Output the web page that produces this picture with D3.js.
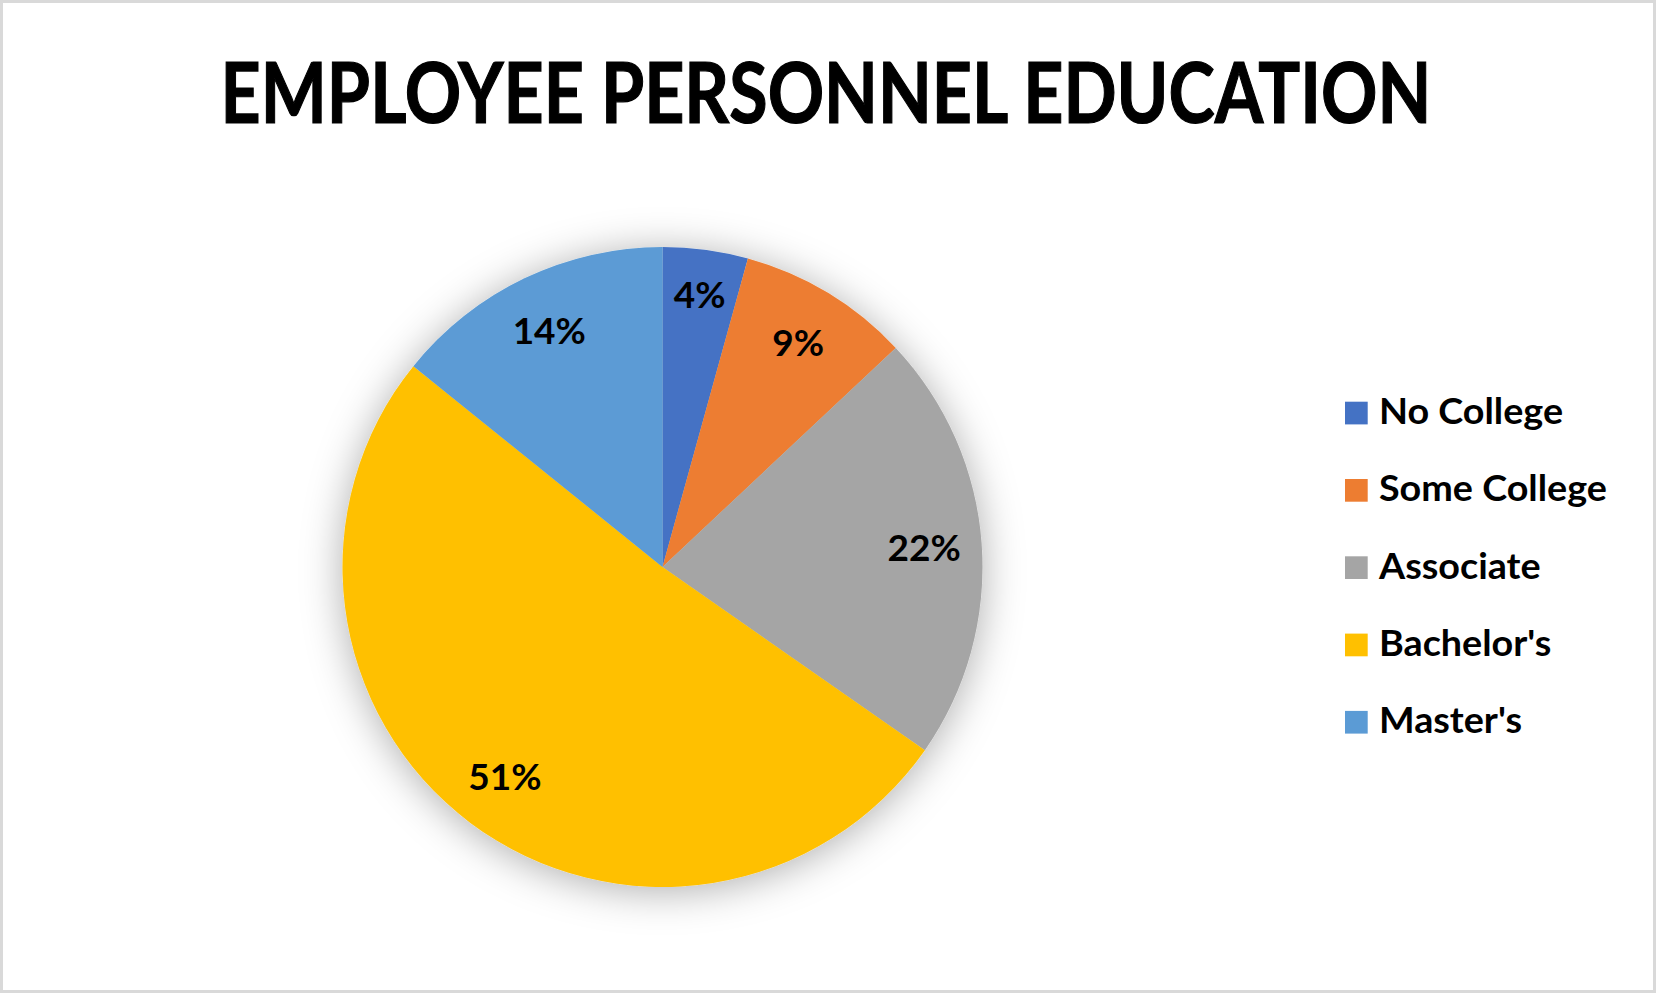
<!DOCTYPE html>
<html>
<head>
<meta charset="utf-8">
<script src="https://cdn.jsdelivr.net/npm/d3@7"></script>
<style>
  html, body { margin: 0; padding: 0; background: #fff; }
  svg { display: block; }
</style>
</head>
<body>
<svg id="chart" width="1656" height="993"></svg>
<script>
// data (share of employees, percent)
var categories = ["No College", "Some College", "Associate", "Bachelor's", "Master's"];
var shares = [4.3, 8.7, 21.7, 51.1, 14.2];
var colours = ["#4472C4", "#ED7D31", "#A5A5A5", "#FFC000", "#5B9BD5"];
var title = "EMPLOYEE PERSONNEL EDUCATION";

var svg = d3.select("#chart"),
    width = +svg.attr("width"),
    height = +svg.attr("height");

var font = "Lato, 'Open Sans', sans-serif";

// chart area frame
svg.append("rect")
    .attr("x", 1.5).attr("y", 1.5)
    .attr("width", width - 3).attr("height", height - 3)
    .attr("fill", "#fff")
    .attr("stroke", "#d9d9d9")
    .attr("stroke-width", 3);

// soft shadow round the pie
var defs = svg.append("defs");
var f = defs.append("filter")
    .attr("id", "shadow")
    .attr("x", "-30%").attr("y", "-30%")
    .attr("width", "160%").attr("height", "160%");
f.append("feDropShadow")
    .attr("dx", 0).attr("dy", 4)
    .attr("stdDeviation", 20)
    .attr("flood-color", "#000")
    .attr("flood-opacity", 0.32);

// title, squeezed to the width it has in the picture (~1211px)
var titleText = svg.append("text")
    .attr("x", 826)
    .attr("y", 123)
    .attr("text-anchor", "middle")
    .attr("font-family", font)
    .attr("font-weight", "bold")
    .attr("font-size", 84)
    .attr("fill", "#000")
    .attr("stroke", "#000")
    .attr("stroke-width", 1.2)
    .text(title);
var tw = titleText.node().getComputedTextLength();
var tsx = 1211 / tw;
titleText.attr("transform", "translate(826,0) scale(" + tsx + ",1) translate(-826,0)");

// pie
var cx = 662.5, cy = 567, radius = 320;
var total = d3.sum(shares);

var pie = d3.pie()
    .sort(null)
    .value(function(d) { return d; });

var arc = d3.arc()
    .innerRadius(0)
    .outerRadius(radius);

var slices = pie(shares);

var g = svg.append("g")
    .attr("transform", "translate(" + cx + "," + cy + ")");

g.append("g")
    .attr("filter", "url(#shadow)")
  .selectAll("path")
  .data(slices)
  .enter().append("path")
    .attr("d", arc)
    .attr("fill", function(d, i) { return colours[i]; });

// data labels, narrow slices get pushed a bit further out
g.selectAll(".label")
  .data(slices)
  .enter().append("text")
    .attr("class", "label")
    .attr("transform", function(d) {
      var k = (d.value / total < 0.05) ? 0.86 : 0.82;
      var a = (d.startAngle + d.endAngle) / 2;
      return "translate(" + (Math.sin(a) * radius * k) + "," + (-Math.cos(a) * radius * k) + ")";
    })
    .attr("text-anchor", "middle")
    .attr("dy", "0.36em")
    .attr("font-family", font)
    .attr("font-weight", "bold")
    .attr("font-size", 37)
    .attr("fill", "#000")
    .text(function(d) { return Math.round(d.value / total * 100) + "%"; });

// legend
var legend = svg.append("g")
    .attr("class", "legend")
  .selectAll("g")
  .data(categories)
  .enter().append("g")
    .attr("transform", function(d, i) { return "translate(1345," + (413 + i * 77.3) + ")"; });

legend.append("rect")
    .attr("x", 0)
    .attr("y", -11.3)
    .attr("width", 22.7)
    .attr("height", 22.7)
    .attr("fill", function(d, i) { return colours[i]; });

var legendText = legend.append("text")
    .attr("x", 34)
    .attr("y", 11)
    .attr("font-family", font)
    .attr("font-weight", "bold")
    .attr("font-size", 36)
    .attr("fill", "#000")
    .text(function(d) { return d; });

// squeeze legend text to Calibri-like width ("Some College" is ~228px wide)
var w = legendText.filter(function(d) { return d === "Some College"; }).node().getComputedTextLength();
var sx = 228 / w;
legendText.attr("transform", "translate(34,0) scale(" + sx + ",1) translate(-34,0)");
</script>
</body>
</html>
